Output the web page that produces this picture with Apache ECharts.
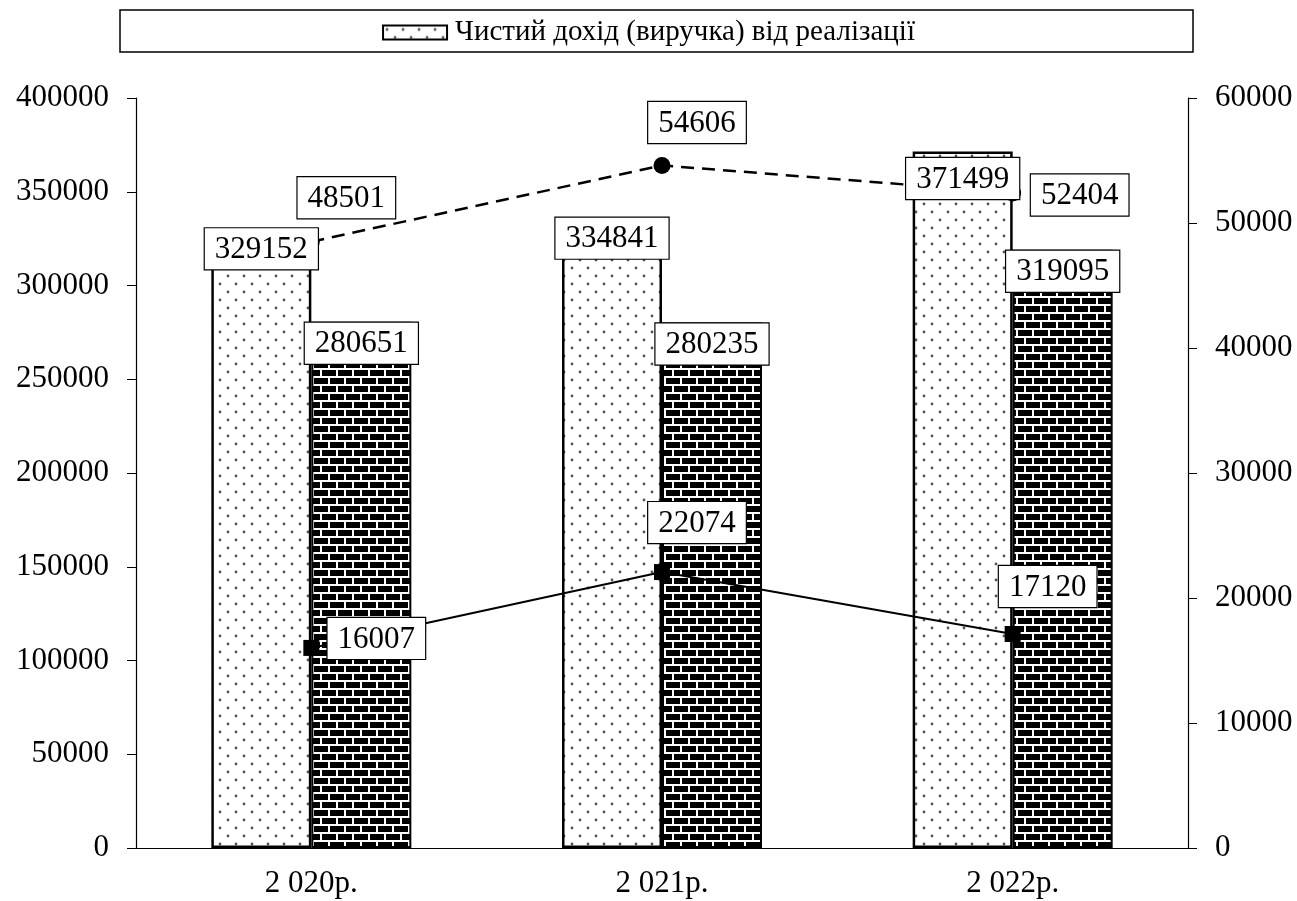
<!DOCTYPE html>
<html>
<head>
<meta charset="utf-8">
<script src="https://cdn.jsdelivr.net/npm/echarts@6/dist/echarts.min.js"></script>
<style>
	html, body { margin: 0; padding: 0; background: #fff; }
	#chart { width: 1297px; height: 901px; }
</style>
</head>
<body>
<div id="chart"></div>
<script>
const years = [ '2 020р.', '2 021р.', '2 022р.' ];
const revenue = [ 329152, 334841, 371499 ];
const costs = [ 280651, 280235, 319095 ];
const grossProfit = [ 48501, 54606, 52404 ];
const netProfit = [ 16007, 22074, 17120 ];
const leftTicks = { min: 0, max: 400000, interval: 50000 };
const rightTicks = { min: 0, max: 60000, interval: 10000 };

// label shifts in px (style only)
const revenueOffsets = [ [ -50, -3 ], [ -50, -3 ], [ -50, 6 ] ];
const grossOffsets = [ [ 35, -15 ], [ 35, -14 ], [ 67, 31 ] ];
const netOffsets = [ [ 65, 19 ], [ 35, -21 ], [ 35, -19 ] ];

const FONT = '"Liberation Serif", "Times New Roman", serif';

const makeTile = ( draw ) => {
	const c = document.createElement( 'canvas' );
	c.width = 16;
	c.height = 16;
	draw( c.getContext( '2d' ) );
	return c;
};

const dots = makeTile( ( ctx ) => {
	ctx.fillStyle = '#fff';
	ctx.fillRect( 0, 0, 16, 16 );
	ctx.fillStyle = '#555';
	[ [ 4, 4 ], [ 12, 12 ] ].forEach( ( [ x, y ] ) => {
		ctx.beginPath();
		ctx.arc( x, y, 1.4, 0, Math.PI * 2 );
		ctx.fill();
	} );
} );

const bricks = makeTile( ( ctx ) => {
	ctx.fillStyle = '#000';
	ctx.fillRect( 0, 0, 16, 16 );
	ctx.fillStyle = '#fff';
	ctx.fillRect( 0, 0, 16, 2 );
	ctx.fillRect( 0, 8, 16, 2 );
	ctx.fillRect( 0, 0, 2, 8 );
	ctx.fillRect( 8, 8, 2, 8 );
} );

const boxLabel = {
	show: true,
	fontFamily: FONT,
	fontSize: 31,
	color: '#000',
	backgroundColor: '#fff',
	borderColor: '#000',
	borderWidth: 1.2,
	padding: [ 6, 10, 4, 10 ]
};

const withOffsets = ( values, offsets ) => values.map( ( v, i ) => ( {
	value: v,
	label: { offset: offsets[ i ] }
} ) );

const plain = ( v ) => String( v );

const chart = echarts.init( document.getElementById( 'chart' ), null, { renderer: 'canvas' } );

const axisText = { fontFamily: FONT, fontSize: 31, color: '#000', formatter: plain };

chart.setOption( {
	animation: false,
	backgroundColor: '#fff',
	textStyle: { fontFamily: FONT },
	graphic: [ {
		type: 'rect',
		shape: { x: 120, y: 10, width: 1073, height: 42 },
		style: { fill: 'none', stroke: '#000', lineWidth: 1.5 }
	} ],
	legend: {
		data: [ 'Чистий дохід (виручка) від реалізації' ],
		top: 13,
		left: 'center',
		icon: 'rect',
		itemWidth: 64,
		itemHeight: 14,
		itemGap: 6,
		itemStyle: { borderColor: '#000', borderWidth: 2 },
		textStyle: { fontFamily: FONT, fontSize: 29, color: '#000', padding: [ 0, 0, 0, 3 ] }
	},
	grid: { left: 136, right: 109, top: 98, bottom: 53 },
	xAxis: [ {
		type: 'category',
		data: years,
		axisLine: { lineStyle: { color: '#000', width: 1.2 } },
		axisTick: { length: 10, lineStyle: { color: '#000' } },
		axisLabel: { fontFamily: FONT, fontSize: 31, color: '#000', margin: 20 }
	}, {
		// inner half of the crossing ticks
		type: 'category',
		data: years,
		position: 'bottom',
		axisLine: { show: false },
		axisTick: { inside: true, length: 6, lineStyle: { color: '#000' } },
		axisLabel: { show: false }
	} ],
	yAxis: [ {
		type: 'value',
		position: 'left',
		min: leftTicks.min,
		max: leftTicks.max,
		interval: leftTicks.interval,
		splitLine: { show: false },
		axisLine: { show: true, lineStyle: { color: '#000', width: 1.2 } },
		axisTick: { show: true, length: 9, lineStyle: { color: '#000' } },
		axisLabel: Object.assign( { margin: 27 }, axisText )
	}, {
		type: 'value',
		position: 'right',
		min: rightTicks.min,
		max: rightTicks.max,
		interval: rightTicks.interval,
		splitLine: { show: false },
		axisLine: { show: true, lineStyle: { color: '#000', width: 1.2 } },
		axisTick: { show: true, length: 9, lineStyle: { color: '#000' } },
		axisLabel: Object.assign( { margin: 27 }, axisText )
	} ],
	series: [ {
		name: 'Чистий дохід (виручка) від реалізації',
		type: 'bar',
		data: revenue,
		barWidth: 100,
		barGap: '0%',
		itemStyle: {
			color: { image: dots, repeat: 'repeat' },
			borderColor: '#000',
			borderWidth: 2.5
		}
	}, {
		name: 'Собівартість реалізованої продукції',
		type: 'bar',
		data: costs,
		barWidth: 100,
		barGap: '0%',
		itemStyle: {
			color: { image: bricks, repeat: 'repeat' },
			borderColor: '#000',
			borderWidth: 2
		},
		label: Object.assign( { position: 'insideTop', distance: 1 }, boxLabel )
	}, {
		name: 'Валовий прибуток',
		type: 'line',
		yAxisIndex: 1,
		data: withOffsets( grossProfit, grossOffsets ),
		symbol: 'circle',
		symbolSize: 17,
		itemStyle: { color: '#000' },
		lineStyle: { color: '#000', width: 2.5, type: [ 13, 8 ] },
		label: Object.assign( { position: 'top', distance: 0 }, boxLabel ),
		z: 3
	}, {
		name: 'Чистий прибуток',
		type: 'line',
		yAxisIndex: 1,
		data: withOffsets( netProfit, netOffsets ),
		symbol: 'rect',
		symbolSize: 16,
		itemStyle: { color: '#000' },
		lineStyle: { color: '#000', width: 2 },
		label: Object.assign( { position: 'top', distance: 0 }, boxLabel ),
		z: 3
	}, {
		// revenue labels drawn above the lines, as in the source chart
		name: 'revenue-labels',
		type: 'scatter',
		data: withOffsets( revenue, revenueOffsets ),
		symbolSize: 1,
		itemStyle: { color: 'rgba(0,0,0,0)', opacity: 1 },
		label: Object.assign( { position: 'bottom', distance: 0 }, boxLabel ),
		silent: true,
		z: 5
	} ]
} );
</script>
</body>
</html>
